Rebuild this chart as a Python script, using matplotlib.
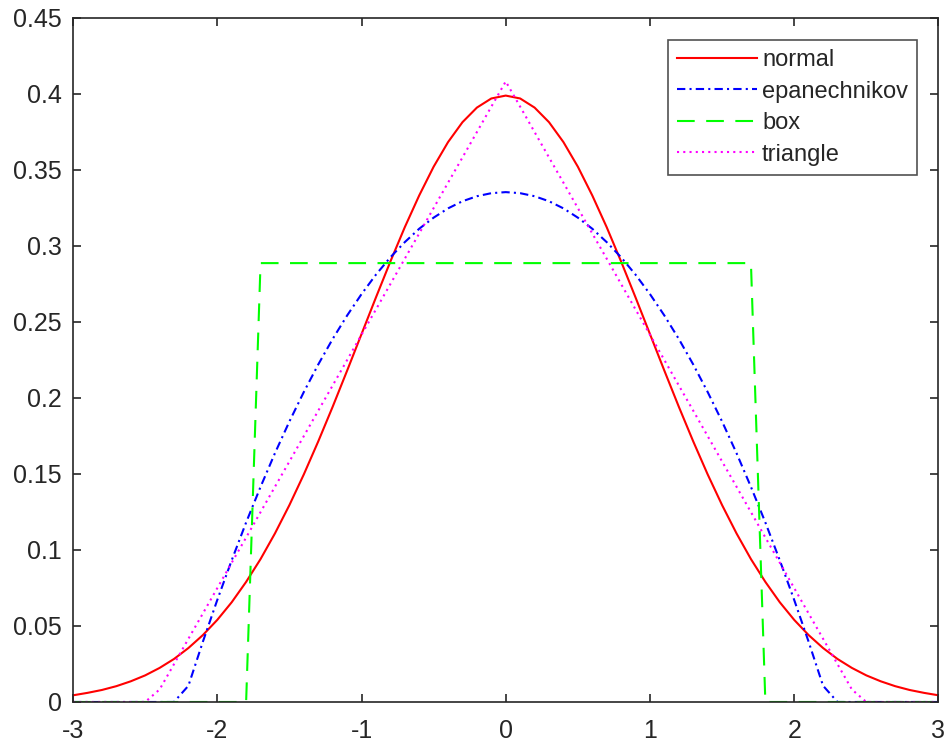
import matplotlib
matplotlib.use("Agg")
import matplotlib.pyplot as plt

x = [-3.0, -2.9, -2.8, -2.7, -2.6, -2.5, -2.4, -2.3, -2.2, -2.1, -2.0,
     -1.9, -1.8, -1.7, -1.6, -1.5, -1.4, -1.3, -1.2, -1.1, -1.0,
     -0.9, -0.8, -0.7, -0.6, -0.5, -0.4, -0.3, -0.2, -0.1, 0.0,
     0.1, 0.2, 0.3, 0.4, 0.5, 0.6, 0.7, 0.8, 0.9, 1.0,
     1.1, 1.2, 1.3, 1.4, 1.5, 1.6, 1.7, 1.8, 1.9, 2.0,
     2.1, 2.2, 2.3, 2.4, 2.5, 2.6, 2.7, 2.8, 2.9, 3.0]

normal = [0.0044, 0.0060, 0.0079, 0.0104, 0.0136, 0.0175, 0.0224, 0.0283, 0.0355, 0.0440, 0.0540,
          0.0656, 0.0790, 0.0940, 0.1109, 0.1295, 0.1497, 0.1714, 0.1942, 0.2179, 0.2420,
          0.2661, 0.2897, 0.3123, 0.3332, 0.3521, 0.3683, 0.3814, 0.3910, 0.3970, 0.3989,
          0.3970, 0.3910, 0.3814, 0.3683, 0.3521, 0.3332, 0.3123, 0.2897, 0.2661, 0.2420,
          0.2179, 0.1942, 0.1714, 0.1497, 0.1295, 0.1109, 0.0940, 0.0790, 0.0656, 0.0540,
          0.0440, 0.0355, 0.0283, 0.0224, 0.0175, 0.0136, 0.0104, 0.0079, 0.0060, 0.0044]

epanechnikov = [0, 0, 0, 0, 0, 0, 0, 0, 0.0107, 0.0396, 0.0671,
                0.0932, 0.1181, 0.1415, 0.1637, 0.1845, 0.2039, 0.2220, 0.2388, 0.2542, 0.2683,
                0.2811, 0.2925, 0.3025, 0.3113, 0.3186, 0.3247, 0.3294, 0.3327, 0.3347, 0.3354,
                0.3347, 0.3327, 0.3294, 0.3247, 0.3186, 0.3113, 0.3025, 0.2925, 0.2811, 0.2683,
                0.2542, 0.2388, 0.2220, 0.2039, 0.1845, 0.1637, 0.1415, 0.1181, 0.0932, 0.0671,
                0.0396, 0.0107, 0, 0, 0, 0, 0, 0, 0, 0]

box = [0, 0, 0, 0, 0, 0, 0, 0, 0, 0, 0,
       0, 0, 0.2887, 0.2887, 0.2887, 0.2887, 0.2887, 0.2887, 0.2887, 0.2887,
       0.2887, 0.2887, 0.2887, 0.2887, 0.2887, 0.2887, 0.2887, 0.2887, 0.2887, 0.2887,
       0.2887, 0.2887, 0.2887, 0.2887, 0.2887, 0.2887, 0.2887, 0.2887, 0.2887, 0.2887,
       0.2887, 0.2887, 0.2887, 0.2887, 0.2887, 0.2887, 0.2887, 0, 0, 0,
       0, 0, 0, 0, 0, 0, 0, 0, 0, 0]

triangle = [0, 0, 0, 0, 0, 0, 0.0082, 0.0249, 0.0416, 0.0582, 0.0749,
            0.0916, 0.1082, 0.1249, 0.1416, 0.1582, 0.1749, 0.1916, 0.2082, 0.2249, 0.2416,
            0.2582, 0.2749, 0.2916, 0.3082, 0.3249, 0.3416, 0.3582, 0.3749, 0.3916, 0.4082,
            0.3916, 0.3749, 0.3582, 0.3416, 0.3249, 0.3082, 0.2916, 0.2749, 0.2582, 0.2416,
            0.2249, 0.2082, 0.1916, 0.1749, 0.1582, 0.1416, 0.1249, 0.1082, 0.0916, 0.0749,
            0.0582, 0.0416, 0.0249, 0.0082, 0, 0, 0, 0, 0, 0]

labels = ["normal", "epanechnikov", "box", "triangle"]
xticks = [-3, -2, -1, 0, 1, 2, 3]
yticks = [0, 0.05, 0.1, 0.15, 0.2, 0.25, 0.3, 0.35, 0.4, 0.45]
yticklabels = ["0", "0.05", "0.1", "0.15", "0.2", "0.25", "0.3", "0.35", "0.4", "0.45"]

plt.rcParams["font.family"] = ["Liberation Sans", "DejaVu Sans"]

fig = plt.figure(figsize=(9.51, 7.46), dpi=100)
ax = fig.add_axes([0.0768, 0.059, 0.910, 0.917])

lw = 1.5
ax.plot(x, normal, color=(1, 0, 0), lw=lw, ls="-", label=labels[0])
ax.plot(x, epanechnikov, color=(0, 0, 1), lw=lw, ls=(0, (4, 2, 1, 2)), label=labels[1])
ax.plot(x, box, color=(0, 1, 0), lw=lw, ls=(0, (8.5, 5.5)), label=labels[2])
ax.plot(x, triangle, color=(1, 0, 1), lw=lw, ls=(0, (1, 2)), label=labels[3])

ax.set_xlim(-3, 3)
ax.set_ylim(0, 0.45)
ax.set_xticks(xticks)
ax.set_xticklabels([str(v) for v in xticks])
ax.set_yticks(yticks)
ax.set_yticklabels(yticklabels)

spine_c = "#262626"
for s in ax.spines.values():
    s.set_color(spine_c)
    s.set_linewidth(1.2)
ax.tick_params(direction="in", length=6, width=1.2, colors=spine_c,
               labelsize=18, top=True, right=True)
ax.tick_params(axis="x", pad=12)
ax.tick_params(axis="y", pad=8)
for t in ax.get_xticklabels() + ax.get_yticklabels():
    t.set_color(spine_c)

leg = ax.legend(loc="upper right", bbox_to_anchor=(0.9757, 0.968), fontsize=17,
                frameon=True, fancybox=False, handlelength=3.4, handletextpad=0.2,
                borderpad=0.4, labelspacing=0.4, borderaxespad=0)
leg.get_frame().set_edgecolor(spine_c)
leg.get_frame().set_linewidth(1.2)
for t in leg.get_texts():
    t.set_color(spine_c)

fig.savefig("out.png", dpi=100)
